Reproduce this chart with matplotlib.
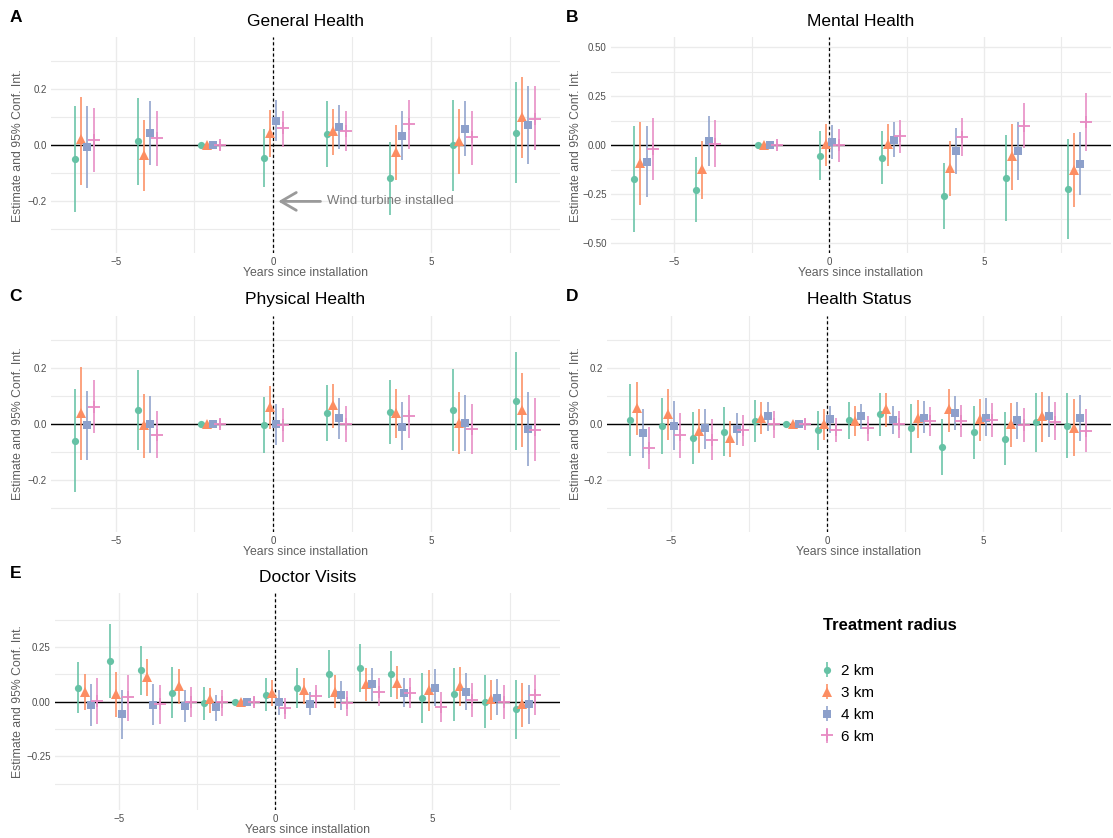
import numpy as np
import matplotlib
matplotlib.use("Agg")
import matplotlib.pyplot as plt
from matplotlib.ticker import FixedLocator, FixedFormatter

plt.rcParams['font.family'] = ['Liberation Sans', 'DejaVu Sans']

# ---- data -------------------------------------------------------------
radii = ['2 km', '3 km', '4 km', '6 km']
years_2yr = [-6, -4, -2, 0, 2, 4, 6, 8]
years_1yr = [-6, -5, -4, -3, -2, -1, 0, 1, 2, 3, 4, 5, 6, 7, 8]

# General Health (rows: 2, 3, 4, 6 km)
general_est = [[-0.05, 0.015, 0, -0.046, 0.04, -0.118, 0.0, 0.045],
               [0.021, -0.033, 0, 0.045, 0.051, -0.024, 0.017, 0.1],
               [-0.006, 0.044, 0, 0.086, 0.065, 0.033, 0.058, 0.073],
               [0.02, 0.027, 0, 0.06, 0.05, 0.075, 0.028, 0.095]]
general_lo = [[-0.239, -0.141, -0.004, -0.15, -0.078, -0.249, -0.162, -0.133],
              [-0.141, -0.163, -0.006, -0.04, -0.036, -0.123, -0.102, -0.046],
              [-0.154, -0.07, -0.008, 0.015, -0.012, -0.054, -0.038, -0.068],
              [-0.095, -0.073, -0.015, -0.005, -0.022, -0.012, -0.072, -0.018]]
general_hi = [[0.14, 0.17, 0.004, 0.058, 0.157, 0.01, 0.161, 0.225],
              [0.173, 0.09, 0.006, 0.125, 0.131, 0.071, 0.129, 0.244],
              [0.14, 0.157, 0.008, 0.161, 0.142, 0.124, 0.157, 0.212],
              [0.134, 0.124, 0.015, 0.124, 0.121, 0.161, 0.124, 0.211]]

# Mental Health
mental_est = [[-0.172, -0.226, 0, -0.052, -0.063, -0.257, -0.167, -0.223],
              [-0.091, -0.122, 0, 0.005, 0.005, -0.117, -0.056, -0.125],
              [-0.084, 0.024, 0, 0.017, 0.027, -0.029, -0.029, -0.093],
              [-0.019, 0.008, 0, 0.003, 0.046, 0.041, 0.1, 0.12]]
mental_lo = [[-0.443, -0.392, -0.005, -0.179, -0.198, -0.426, -0.387, -0.476],
             [-0.306, -0.272, -0.008, -0.105, -0.106, -0.258, -0.23, -0.316],
             [-0.262, -0.103, -0.01, -0.068, -0.061, -0.144, -0.176, -0.252],
             [-0.176, -0.113, -0.02, -0.083, -0.041, -0.057, -0.014, -0.027]]
mental_hi = [[0.096, -0.061, 0.005, 0.073, 0.071, -0.091, 0.052, 0.03],
             [0.117, 0.02, 0.008, 0.106, 0.108, 0.02, 0.111, 0.061],
             [0.096, 0.147, 0.01, 0.101, 0.117, 0.09, 0.117, 0.066],
             [0.139, 0.13, 0.02, 0.084, 0.13, 0.139, 0.213, 0.265]]

# Physical Health
physical_est = [[-0.062, 0.05, 0, -0.004, 0.039, 0.04, 0.05, 0.082],
                [0.038, -0.006, 0, 0.059, 0.067, 0.038, 0.002, 0.05],
                [-0.006, -0.002, 0, -0.002, 0.019, -0.01, 0.001, -0.02],
                [0.06, -0.039, 0, -0.004, -0.002, 0.026, -0.02, -0.021]]
physical_lo = [[-0.245, -0.095, -0.004, -0.103, -0.062, -0.073, -0.097, -0.093],
               [-0.13, -0.122, -0.006, -0.02, -0.014, -0.052, -0.108, -0.082],
               [-0.13, -0.103, -0.008, -0.076, -0.053, -0.093, -0.097, -0.151],
               [-0.034, -0.124, -0.015, -0.064, -0.066, -0.05, -0.109, -0.133]]
physical_hi = [[0.122, 0.192, 0.004, 0.095, 0.138, 0.155, 0.196, 0.257],
               [0.201, 0.107, 0.006, 0.136, 0.143, 0.125, 0.114, 0.179],
               [0.118, 0.1, 0.008, 0.072, 0.092, 0.077, 0.102, 0.114],
               [0.154, 0.044, 0.015, 0.057, 0.064, 0.103, 0.071, 0.091]]

# Health Status
status_est = [[0.012, -0.008, -0.05, -0.03, 0.011, 0, -0.024, 0.012, 0.034, -0.017, -0.083, -0.031, -0.053, 0.005, -0.007],
              [0.056, 0.035, -0.025, -0.052, 0.02, 0, -0.001, 0.011, 0.051, 0.019, 0.051, 0.015, -0.001, 0.026, -0.014],
              [-0.034, -0.007, -0.014, -0.019, 0.026, 0, 0.017, 0.026, 0.012, 0.022, 0.037, 0.022, 0.012, 0.026, 0.02],
              [-0.086, -0.04, -0.057, -0.022, -0.002, 0, -0.021, -0.014, -0.002, 0.008, 0.011, 0.014, -0.004, 0.007, -0.026]]
status_lo = [[-0.116, -0.107, -0.142, -0.115, -0.066, -0.004, -0.092, -0.053, -0.043, -0.104, -0.183, -0.127, -0.149, -0.101, -0.124],
             [-0.041, -0.057, -0.104, -0.118, -0.038, -0.006, -0.057, -0.044, -0.012, -0.051, -0.028, -0.063, -0.083, -0.064, -0.116],
             [-0.124, -0.095, -0.089, -0.077, -0.027, -0.008, -0.032, -0.02, -0.038, -0.033, -0.024, -0.044, -0.053, -0.047, -0.063],
             [-0.162, -0.121, -0.128, -0.08, -0.051, -0.015, -0.067, -0.06, -0.05, -0.043, -0.047, -0.046, -0.066, -0.059, -0.102]]
status_hi = [[0.141, 0.09, 0.043, 0.058, 0.086, 0.004, 0.045, 0.076, 0.111, 0.07, 0.017, 0.064, 0.043, 0.108, 0.11],
             [0.15, 0.122, 0.054, 0.011, 0.076, 0.006, 0.053, 0.063, 0.11, 0.086, 0.124, 0.089, 0.075, 0.112, 0.088],
             [0.054, 0.08, 0.053, 0.039, 0.076, 0.008, 0.063, 0.072, 0.064, 0.082, 0.1, 0.09, 0.079, 0.098, 0.102],
             [-0.011, 0.039, 0.015, 0.032, 0.045, 0.015, 0.022, 0.028, 0.046, 0.059, 0.067, 0.073, 0.056, 0.076, 0.051]]

# Doctor Visits
doctor_est = [[0.064, 0.187, 0.143, 0.041, -0.008, 0, 0.031, 0.063, 0.126, 0.153, 0.126, 0.017, 0.034, 0.0, -0.035],
              [0.046, 0.035, 0.112, 0.071, 0.011, 0, 0.04, 0.051, 0.046, 0.081, 0.087, 0.052, 0.072, 0.011, -0.009],
              [-0.017, -0.058, -0.014, -0.021, -0.026, 0, 0.0, -0.009, 0.029, 0.08, 0.041, 0.064, 0.046, 0.018, -0.012],
              [0.003, 0.02, -0.009, 0.0, -0.003, 0, -0.029, 0.025, -0.008, 0.044, 0.038, -0.023, 0.008, 0.0, 0.032]]
doctor_lo = [[-0.054, 0.018, 0.029, -0.075, -0.086, -0.004, -0.044, -0.031, 0.017, 0.046, 0.02, -0.097, -0.09, -0.12, -0.171],
             [-0.04, -0.072, 0.025, -0.011, -0.052, -0.006, -0.021, -0.012, -0.029, 0.005, 0.011, -0.044, -0.021, -0.082, -0.116],
             [-0.112, -0.172, -0.106, -0.095, -0.089, -0.008, -0.06, -0.06, -0.037, 0.005, -0.026, -0.018, -0.04, -0.061, -0.101],
             [-0.104, -0.087, -0.1, -0.069, -0.064, -0.02, -0.078, -0.031, -0.064, -0.021, -0.031, -0.094, -0.069, -0.081, -0.061]]
doctor_hi = [[0.183, 0.353, 0.256, 0.158, 0.069, 0.004, 0.106, 0.155, 0.235, 0.262, 0.23, 0.129, 0.156, 0.123, 0.1],
             [0.127, 0.135, 0.193, 0.147, 0.063, 0.006, 0.097, 0.107, 0.12, 0.153, 0.163, 0.143, 0.16, 0.099, 0.087],
             [0.08, 0.051, 0.08, 0.052, 0.032, 0.008, 0.055, 0.046, 0.095, 0.153, 0.11, 0.147, 0.133, 0.104, 0.076],
             [0.109, 0.124, 0.077, 0.066, 0.055, 0.02, 0.018, 0.078, 0.048, 0.11, 0.106, 0.046, 0.083, 0.078, 0.123]]

# ---- style ------------------------------------------------------------
colors = ['#66C2A5', '#FC8D62', '#8DA0CB', '#E78AC3']
markers = ['o', '^', 's', '+']
msizes = [5.2, 7, 5.4, 9]
offsets = [-0.3, -0.1, 0.1, 0.3]
grid_c = '#EBEBEB'
tick_c = '#4D4D4D'
lab_c = '#5E5E5E'

W, H = 1113, 838
fig = plt.figure(figsize=(W / 100, H / 100), dpi=100)


def px_axes(l, t, r, b):
    return fig.add_axes([l / W, 1 - b / H, (r - l) / W, (b - t) / H])


def minus(v, fmt):
    return (fmt % v).replace('-', '\u2212')


def panel(ax, letter, title, years, est, lo, hi, ymaj, ymin, ylim, yfmt, ylab_x):
    ax.set_xlim(-7.05, 9.1)
    ax.set_ylim(-ylim, ylim)
    for s in ax.spines.values():
        s.set_visible(False)
    ax.xaxis.set_major_locator(FixedLocator([-5, 0, 5]))
    ax.xaxis.set_major_formatter(FixedFormatter(['\u22125', '0', '5']))
    ax.xaxis.set_minor_locator(FixedLocator([-2.5, 2.5, 7.5]))
    ax.yaxis.set_major_locator(FixedLocator(ymaj))
    ax.yaxis.set_major_formatter(FixedFormatter([minus(v, yfmt) for v in ymaj]))
    ax.yaxis.set_minor_locator(FixedLocator(ymin))
    ax.tick_params(which='both', length=0, labelsize=7, labelcolor=tick_c, pad=3)
    ax.grid(which='major', color=grid_c, lw=1.0, zorder=0)
    ax.grid(which='minor', color=grid_c, lw=0.8, zorder=0)
    ax.set_axisbelow(True)

    ax.axhline(0, color='black', lw=1.0, zorder=1)
    ax.axvline(0, color='black', lw=0.9, ls=(0, (2.5, 2)), zorder=1)

    x = np.array(years, dtype=float)
    handles = []
    for i in range(4):
        e = np.array(est[i])
        yerr = [np.clip(e - np.array(lo[i]), 0, None), np.clip(np.array(hi[i]) - e, 0, None)]
        h = ax.errorbar(x + offsets[i], e, yerr=yerr, fmt=markers[i], color=colors[i],
                        ms=msizes[i], mew=1.3 if markers[i] == '+' else 0, elinewidth=1.15,
                        capsize=0, zorder=3 + i)
        handles.append(h)

    ax.text(0.5, 1 + 15.8 / 216, title, transform=ax.transAxes, ha='center', va='center',
            fontsize=12.5, color='black')
    pos = ax.get_position()
    fig.text(ylab_x[0] / W, pos.y1 + 19.5 / H, letter,
             fontsize=12.5, fontweight='bold', ha='center', va='center')
    ax.set_xlabel('Years since installation', fontsize=8.8, color=lab_c)
    ax.xaxis.set_label_coords(0.5, -0.064)
    ax.set_ylabel('Estimate and 95% Conf. Int.', fontsize=8.8, color=lab_c)
    ax.yaxis.set_label_coords((ylab_x[1] - pos.x0 * W) / (pos.width * W), 0.5)
    return handles


axA = px_axes(51, 37.3, 560, 253.3)
axB = px_axes(611, 37.3, 1111, 253.3)
axC = px_axes(51, 315.7, 560, 531.7)
axD = px_axes(607, 315.7, 1111, 531.7)
axE = px_axes(55, 593.3, 560, 810)

ab_maj = [-0.2, 0.0, 0.2]
ab_min = [-0.3, -0.1, 0.1, 0.3]
handles = panel(axA, 'A', 'General Health', years_2yr, general_est, general_lo, general_hi,
                ab_maj, ab_min, 0.385, '%.1f', (16, 24))
panel(axB, 'B', 'Mental Health', years_2yr, mental_est, mental_lo, mental_hi,
      [-0.5, -0.25, 0.0, 0.25, 0.5], [-0.375, -0.125, 0.125, 0.375], 0.55, '%.2f', (572, 582))
panel(axC, 'C', 'Physical Health', years_2yr, physical_est, physical_lo, physical_hi,
      ab_maj, ab_min, 0.385, '%.1f', (16, 24))
panel(axD, 'D', 'Health Status', years_1yr, status_est, status_lo, status_hi,
      ab_maj, ab_min, 0.385, '%.1f', (572, 582))
panel(axE, 'E', 'Doctor Visits', years_1yr, doctor_est, doctor_lo, doctor_hi,
      [-0.25, 0.0, 0.25], [-0.375, -0.125, 0.125, 0.375], 0.495, '%.2f', (16, 24))

# annotation in panel A
axA.annotate('', xy=(0.16, -0.2), xytext=(1.5, -0.2),
             arrowprops=dict(arrowstyle='->, head_length=0.55, head_width=0.32',
                             color='#9A9A9A', lw=2, mutation_scale=20, shrinkA=0, shrinkB=0))
axA.text(1.72, -0.2, 'Wind turbine installed', color='#7A7A7A', fontsize=9.5,
         ha='left', va='center')

# legend
fig.text(890 / W, 1 - 625 / H, 'Treatment radius', fontsize=12, fontweight='bold',
         ha='center', va='center')
fig.legend(handles, radii, loc='upper left', bbox_to_anchor=(819 / W, 1 - 664 / H),
           frameon=False, fontsize=11, handlelength=1.0, handletextpad=0.45,
           labelspacing=0.52, borderpad=0, borderaxespad=0)

fig.savefig('out.png', dpi=100)
